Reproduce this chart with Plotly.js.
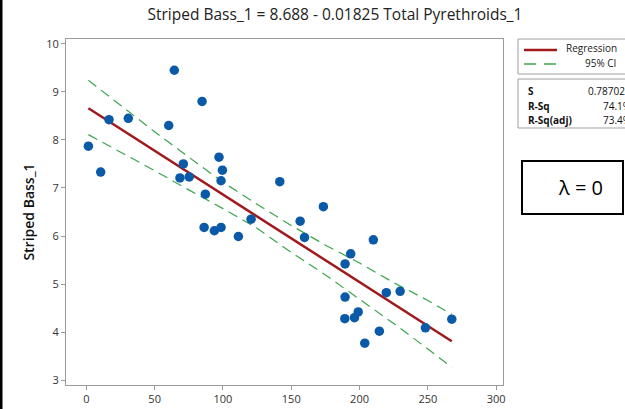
<!DOCTYPE html>
<html>
<head>
<meta charset="utf-8">
<script src="https://cdn.plot.ly/plotly-3.0.1.min.js"></script>
<style>
html,body{margin:0;padding:0;background:#fff;}
#chart{width:625px;height:409px;}
</style>
</head>
<body>
<div id="chart"></div>
<script>
// Observed data (Total Pyrethroids_1 vs Striped Bass_1)
const pyrethroids = [1.5, 10.5, 16.6, 30.7, 60.3, 64.4, 68.5, 71, 75.3, 84.7, 86.2, 87.1, 93.7, 97.1, 98.6, 98.6, 99.6, 111.3, 120.6, 141.6, 156.5, 159.7, 173.5, 189.2, 189.4, 189.4, 193.5, 196.3, 199, 203.8, 210.1, 214.5, 219.6, 229.7, 248.2, 267.5];
const stripedBass = [7.87, 7.33, 8.42, 8.45, 8.30, 9.45, 7.21, 7.50, 7.23, 8.80, 6.18, 6.87, 6.11, 7.64, 7.15, 6.18, 7.37, 5.99, 6.35, 7.13, 6.31, 5.97, 6.61, 4.28, 4.73, 5.42, 5.63, 4.30, 4.42, 3.77, 5.92, 4.02, 4.82, 4.85, 4.09, 4.27];

// Regression line
const fitX = [1.5, 267.5];
const fitY = [8.66, 3.81];

// 95% confidence band
const ciX = [1.5, 25, 50, 75, 100, 125, 150, 175, 200, 225, 250, 267.5];
const ciUpper = [9.24, 8.72, 8.17, 7.64, 7.12, 6.66, 6.22, 5.81, 5.44, 5.03, 4.66, 4.37];
const ciLower = [8.11, 7.75, 7.36, 6.96, 6.57, 6.16, 5.66, 5.19, 4.69, 4.18, 3.65, 3.27];

const xTicks = [0, 50, 100, 150, 200, 250, 300];
const yTicks = [3, 4, 5, 6, 7, 8, 9, 10];

const titleText = "Striped Bass_1 = 8.688 - 0.01825 Total Pyrethroids_1";
const yTitle = "Striped Bass_1";
const statLabels = ["S", "R-Sq", "R-Sq(adj)"];
const statValues = ["0.787025", "74.1%", "73.4%"];
const legendNames = ["Regression", "95% CI"];

const FONT = "Open Sans, Noto Sans, sans-serif";
const W = 625, H = 409;
const L = 66, R = 503, T = 39, B = 385;
const px = x => (x - L) / (R - L);
const py = y => (B - y) / (B - T);

const traces = [
  {x: ciX, y: ciUpper, mode: "lines", line: {color: "#3aa54a", width: 1.2, dash: "10px,6px"}, hoverinfo: "skip"},
  {x: ciX, y: ciLower, mode: "lines", line: {color: "#3aa54a", width: 1.2, dash: "10px,6px"}, hoverinfo: "skip"},
  {x: fitX, y: fitY, mode: "lines", line: {color: "#a0191c", width: 2.5}},
  {x: pyrethroids, y: stripedBass, mode: "markers", marker: {color: "#0a5aa8", size: 9.5}}
];

const shapes = [
  // black strip on left edge
  {type: "rect", xref: "paper", yref: "paper", x0: px(0), x1: px(2.5), y0: py(H), y1: py(0), fillcolor: "#000", line: {width: 0}, layer: "above"},
  // legend box 1
  {type: "rect", xref: "paper", yref: "paper", x0: px(518), x1: px(640), y0: py(74), y1: py(39), line: {color: "#a0a0a0", width: 1}},
  {type: "line", xref: "paper", yref: "paper", x0: px(524), x1: px(557), y0: py(50), y1: py(50), line: {color: "#a0191c", width: 2.5}},
  {type: "line", xref: "paper", yref: "paper", x0: px(524), x1: px(557), y0: py(64), y1: py(64), line: {color: "#3aa54a", width: 1.5, dash: "12px,8px"}},
  // legend box 2
  {type: "rect", xref: "paper", yref: "paper", x0: px(518), x1: px(640), y0: py(128), y1: py(79), line: {color: "#a0a0a0", width: 1}},
  // lambda box
  {type: "rect", xref: "paper", yref: "paper", x0: px(522), x1: px(623), y0: py(214), y1: py(161), line: {color: "#000", width: 2}}
];

const annotations = [
  {xref: "paper", yref: "paper", x: px(564), y: py(48), xanchor: "left", yanchor: "middle", text: legendNames[0], showarrow: false, font: {family: FONT, size: 10, color: "#222"}},
  {xref: "paper", yref: "paper", x: px(583), y: py(63), xanchor: "left", yanchor: "middle", text: legendNames[1], showarrow: false, font: {family: FONT, size: 10, color: "#222"}},
  {xref: "paper", yref: "paper", x: px(526), y: py(91), xanchor: "left", yanchor: "middle", text: "<b>" + statLabels[0] + "</b>", showarrow: false, font: {family: FONT, size: 10, color: "#111"}},
  {xref: "paper", yref: "paper", x: px(526), y: py(106), xanchor: "left", yanchor: "middle", text: "<b>" + statLabels[1] + "</b>", showarrow: false, font: {family: FONT, size: 10, color: "#111"}},
  {xref: "paper", yref: "paper", x: px(526), y: py(120), xanchor: "left", yanchor: "middle", text: "<b>" + statLabels[2] + "</b>", showarrow: false, font: {family: FONT, size: 10, color: "#111"}},
  {xref: "paper", yref: "paper", x: px(586), y: py(91), xanchor: "left", yanchor: "middle", text: statValues[0], showarrow: false, font: {family: FONT, size: 10, color: "#111"}},
  {xref: "paper", yref: "paper", x: px(601), y: py(106), xanchor: "left", yanchor: "middle", text: statValues[1], showarrow: false, font: {family: FONT, size: 10, color: "#111"}},
  {xref: "paper", yref: "paper", x: px(601), y: py(120), xanchor: "left", yanchor: "middle", text: statValues[2], showarrow: false, font: {family: FONT, size: 10, color: "#111"}},
  {xref: "paper", yref: "paper", x: px(580), y: py(187), xanchor: "center", yanchor: "middle", text: "λ = 0", showarrow: false, font: {family: FONT, size: 20, color: "#000"}}
];

const layout = {
  width: W, height: H,
  margin: {l: L, r: W - R, t: T, b: H - B, pad: 0},
  paper_bgcolor: "#fff", plot_bgcolor: "#fff",
  showlegend: false,
  title: {text: titleText, x: 335 / W, xanchor: "center", y: 1 - 15 / H, yanchor: "middle", font: {family: FONT, size: 15.5, color: "#222"}},
  xaxis: {
    range: [-14.9, 305], tickvals: xTicks, ticktext: xTicks.map(String),
    showgrid: false, zeroline: false, showline: true, mirror: true, linecolor: "#9a9a9a", linewidth: 1,
    ticks: "outside", ticklen: 4, tickcolor: "#9a9a9a",
    tickfont: {family: FONT, size: 11, color: "#333"}
  },
  yaxis: {
    range: [2.9, 10.1], tickvals: yTicks, ticktext: yTicks.map(String),
    showgrid: false, zeroline: false, showline: true, mirror: true, linecolor: "#9a9a9a", linewidth: 1,
    ticks: "outside", ticklen: 4, tickcolor: "#9a9a9a",
    tickfont: {family: FONT, size: 11, color: "#333"},
    title: {text: yTitle, standoff: 8, font: {family: FONT, size: 14, color: "#111", weight: 600}}
  },
  shapes: shapes,
  annotations: annotations
};

Plotly.newPlot("chart", traces, layout, {staticPlot: true, displayModeBar: false});
</script>
</body>
</html>
